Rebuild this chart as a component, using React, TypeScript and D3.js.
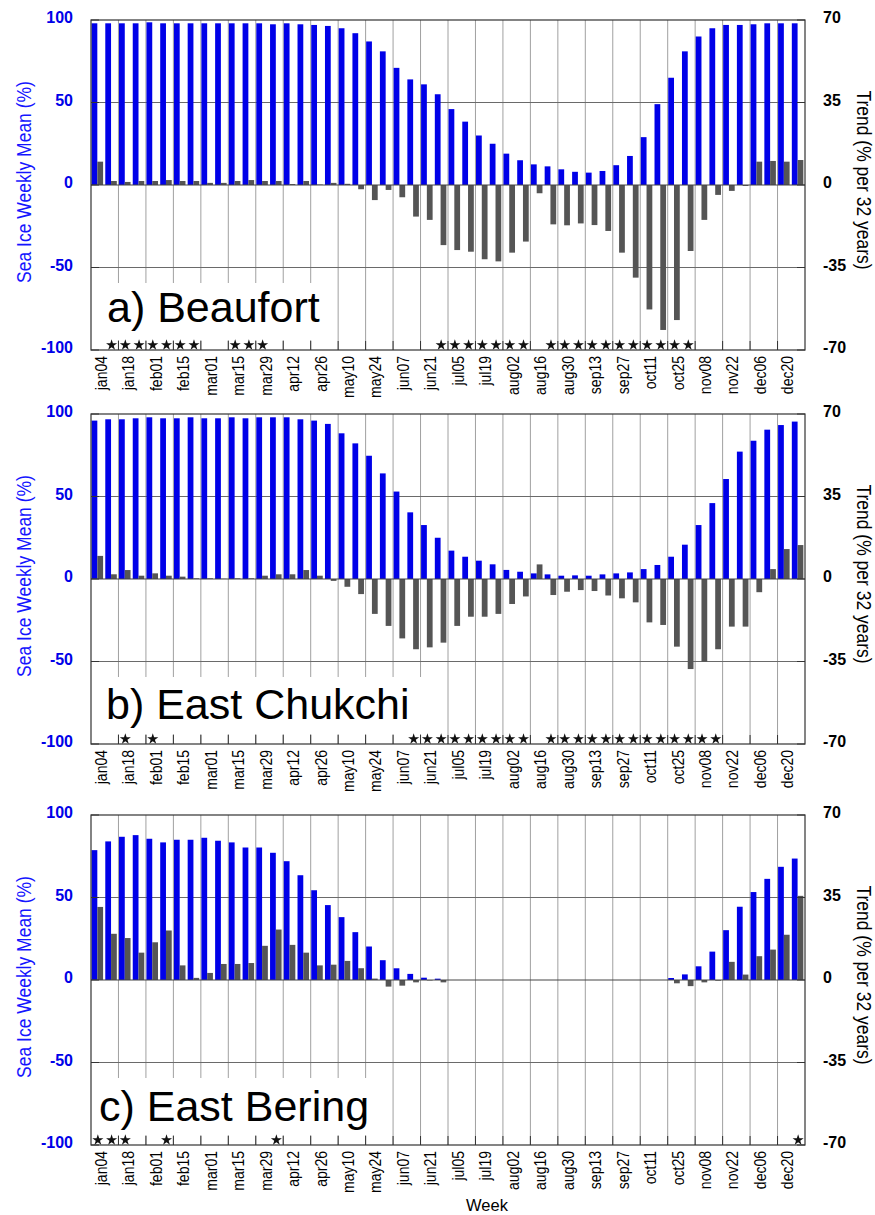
import React from 'react';
import * as d3 from 'd3';

// ---------- data ----------
const weekLabels = [
  'jan04', 'jan18', 'feb01', 'feb15', 'mar01', 'mar15', 'mar29', 'apr12', 'apr26',
  'may10', 'may24', 'jun07', 'jun21', 'jul05', 'jul19', 'aug02', 'aug16', 'aug30',
  'sep13', 'sep27', 'oct11', 'oct25', 'nov08', 'nov22', 'dec06', 'dec20',
];

const leftTicks = [100, 50, 0, -50, -100];
const rightTicks = [70, 35, 0, -35, -70];

const beaufortMean = [
  98, 98, 98, 98, 98.6, 98, 98, 98, 98, 98, 98, 98, 98,
  97.4, 98, 97.4, 97, 96.4, 95, 92, 87, 81, 71, 64, 61, 55, 46, 38.4, 30, 25, 19, 15,
  12.5, 11.3, 9.5, 8, 7.5, 8.5, 12, 17.6, 29, 49, 65, 81, 90, 95, 97, 97, 97.4, 98, 98, 98,
];
const beaufortTrend = [
  9.9, 1.7, 1.3, 1.7, 1.7, 2.1, 1.7, 1.7, 0.9, 0.9, 1.7, 2.1, 1.7, 1.7, 0.4, 1.7, 0.2, 0.9,
  0.5, -1.8, -6.4, -2.1, -5.2, -13.4, -14.8, -25.5, -27.6, -28.3, -31.5, -32.4, -28.7, -24,
  -3.5, -16.7, -17.1, -16.3, -17, -19.5, -28.7, -39.3, -52.8, -61.5, -57.3, -28, -14.8, -4.2,
  -2.5, -0.4, 9.9, 10.2, 9.9, 10.6,
];
const beaufortStars = [1, 2, 3, 4, 5, 6, 7, 10, 11, 12, 25, 26, 27, 28, 29, 30, 31, 33, 34, 35, 36, 37, 38, 39, 40, 41, 42, 43];

const chukchiMean = [
  96, 96.8, 96.8, 97.4, 98, 97.4, 97.4, 98, 97.4, 97.4, 98, 97.4, 98, 98, 98, 96.8, 96, 94,
  88.3, 82.2, 74.7, 64, 53, 40.4, 32.7, 25, 17.2, 13.5, 11.1, 8.9, 5.5, 4.4, 3.4, 2.8, 2, 2.2,
  2, 2.8, 3.4, 4, 6, 8.5, 13.5, 20.8, 32.7, 46, 60.6, 77.2, 83.8, 90.5, 93.3, 95.4,
];
const chukchiTrend = [
  9.8, 2, 3.8, 1.4, 2.4, 1.4, 1, 0.3, 0.3, 0.1, 0.3, 0.3, 1.4, 2, 2, 3.8, 1.4, -0.8, -3.3,
  -6.4, -14.8, -19.9, -25.2, -29.8, -29, -27, -19.9, -16, -16, -14.8, -10.6, -7.4, 6.2, -6.8,
  -5.4, -4.7, -5.1, -7, -8.2, -9.9, -18.4, -19.5, -28.7, -38.2, -35.1, -29.8, -20.2, -20.2,
  -5.6, 4.2, 12.7, 14.4,
];
const chukchiStars = [2, 4, 23, 24, 25, 26, 27, 28, 29, 30, 31, 33, 34, 35, 36, 37, 38, 39, 40, 41, 42, 43, 44, 45];

const beringMean = [
  78.7, 84, 86.8, 87.8, 85.6, 83.4, 85, 85, 86.2, 84.4, 83.4, 80.3, 80.3, 77.1, 72, 63.5,
  54.4, 45.4, 38.1, 29, 20.3, 12, 7.1, 3.7, 1.4, 0.8, 0, 0, 0, 0, 0, 0, 0, 0, 0, 0, 0, 0, 0,
  0, 0, 0, 1.2, 3.4, 8.3, 17.2, 30.2, 44.4, 53.3, 61.3, 68.6, 73.6,
];
const beringTrend = [
  31, 19.6, 17.8, 11.6, 16, 21, 6.2, 0.9, 3, 6.8, 6.8, 7.2, 14.5, 21.4, 14.9, 11.6, 6.2, 6.5,
  8.1, 5, 0.6, -2.8, -2.4, -1, -0.2, -1, 0, 0, 0, 0, 0, 0, 0, 0, 0, 0, 0, 0, 0, 0, 0, 0,
  -1.4, -2.6, -1, -0.3, 7.7, 2.3, 10.1, 12.9, 19.2, 35.7,
];
const beringStars = [0, 1, 2, 5, 13, 51];

// ---------- layout ----------
const W = 875;
const H = 1215;
const plotLeft = 91;
const plotRight = 805;
const plotH = 330;
const BLUE = '#0000e8';
const GRAY = '#555555';
const FONT = '"Liberation Sans", Arial, Helvetica, sans-serif';

const panels = [
  { title: 'a) Beaufort', top: 20, mean: beaufortMean, trend: beaufortTrend, stars: beaufortStars, titleX: 107, titleY: 302, boxRight: 334 },
  { title: 'b) East Chukchi', top: 414, mean: chukchiMean, trend: chukchiTrend, stars: chukchiStars, titleX: 106, titleY: 305, boxRight: 425 },
  { title: 'c) East Bering', top: 815, mean: beringMean, trend: beringTrend, stars: beringStars, titleX: 99, titleY: 306, boxRight: 386 },
];

const starPath = d3.symbol().type(d3.symbolStar).size(38)() as string;

function Panel({ p }: { p: typeof panels[number] }) {
  const x = d3.scaleBand<number>().domain(d3.range(52)).range([plotLeft, plotRight]).padding(0);
  const bw = x.bandwidth();
  const bottom = p.top + plotH;
  const yL = d3.scaleLinear().domain([-100, 100]).range([bottom, p.top]);
  const yR = d3.scaleLinear().domain([-70, 70]).range([bottom, p.top]);
  const gridX = d3.range(1, 26).map((k) => x(2 * k) as number);
  const midY = p.top + plotH / 2;

  return (
    <g>
      {/* vertical gridlines */}
      {gridX.map((gx, i) => (
        <line key={'vg' + i} x1={gx} x2={gx} y1={p.top} y2={bottom} stroke="#a0a0a0" strokeWidth={1} />
      ))}
      {/* horizontal gridlines */}
      {[50, -50].map((v) => (
        <line key={'hg' + v} x1={plotLeft} x2={plotRight} y1={yL(v)} y2={yL(v)} stroke="#6a6a6a" strokeWidth={1} />
      ))}
      {/* title background box */}
      <rect x={plotLeft + 1} y={p.top + 263} width={p.boxRight - plotLeft - 1} height={plotH - 263 - 10} fill="#fff" />
      {/* bars */}
      {p.mean.map((v, i) => (
        <rect key={'m' + i} x={(x(i) as number) + bw * 0.04} width={bw * 0.42} y={yL(v)} height={yL(0) - yL(v)} fill={BLUE} />
      ))}
      {p.trend.map((v, i) => (
        <rect key={'t' + i} x={(x(i) as number) + bw * 0.46} width={bw * 0.42} y={Math.min(yR(v), yR(0))} height={Math.abs(yR(v) - yR(0))} fill={GRAY} />
      ))}
      {/* zero line */}
      <line x1={plotLeft} x2={plotRight} y1={yL(0)} y2={yL(0)} stroke="#444" strokeWidth={1} />
      {/* frame */}
      <rect x={plotLeft} y={p.top} width={plotRight - plotLeft} height={plotH} fill="none" stroke="#333" strokeWidth={1.2} />
      {/* bottom ticks */}
      {gridX.map((gx, i) => (
        <line key={'bt' + i} x1={gx} x2={gx} y1={bottom - 9} y2={bottom} stroke="#333" strokeWidth={1} />
      ))}
      {/* left & right ticks */}
      {leftTicks.map((v) => (
        <line key={'lt' + v} x1={plotLeft} x2={plotLeft + 8} y1={yL(v)} y2={yL(v)} stroke="#333" strokeWidth={1} />
      ))}
      {rightTicks.map((v) => (
        <line key={'rt' + v} x1={plotRight - 8} x2={plotRight} y1={yR(v)} y2={yR(v)} stroke="#333" strokeWidth={1} />
      ))}
      {/* significance stars */}
      {p.stars.map((i) => (
        <path key={'s' + i} d={starPath} transform={`translate(${(x(i) as number) + bw / 2},${bottom - 5})`} fill="#111" />
      ))}
      {/* left tick labels */}
      {leftTicks.map((v) => (
        <text key={'ll' + v} x={73} y={yL(v) + 3} textAnchor="end" fontFamily={FONT} fontWeight="bold" fontSize={16} fill={BLUE}>
          {v}
        </text>
      ))}
      {/* right tick labels */}
      {rightTicks.map((v) => (
        <text key={'rl' + v} x={823} y={yR(v) + 3} textAnchor="start" fontFamily={FONT} fontWeight="bold" fontSize={16} fill="#000">
          {v}
        </text>
      ))}
      {/* x labels */}
      {weekLabels.map((lab, k) => {
        const cx = (x(2 * k) as number) + bw / 2 + 9;
        const cy = bottom + 6;
        return (
          <text key={'xl' + k} transform={`translate(${cx},${cy}) rotate(-90) scale(1,1.22)`} textAnchor="end" fontFamily={FONT} fontSize={14} fill="#000">
            {lab}
          </text>
        );
      })}
      {/* axis titles */}
      <text transform={`translate(31,${midY - 3}) rotate(-90) scale(1,1.12)`} textAnchor="middle" fontFamily={FONT} fontSize={17.5} fill="#1515ff">
        Sea Ice Weekly Mean (%)
      </text>
      <text transform={`translate(857,${midY - 5}) rotate(90) scale(1,1.15)`} textAnchor="middle" fontFamily={FONT} fontSize={17.5} fill="#000">
        Trend (% per 32 years)
      </text>
      {/* panel title */}
      <text x={p.titleX} y={p.top + p.titleY} fontFamily={FONT} fontSize={43} fill="#000">
        {p.title}
      </text>
    </g>
  );
}

export default function App() {
  return (
    <svg width={W} height={H} style={{ position: 'absolute', left: 0, top: 0, background: '#fff' }}>
      <rect x={0} y={0} width={W} height={H} fill="#fff" />
      {panels.map((p) => (
        <Panel key={p.title} p={p} />
      ))}
      <text x={487} y={1211} textAnchor="middle" fontFamily={FONT} fontSize={16.5} fill="#000">
        Week
      </text>
    </svg>
  );
}
